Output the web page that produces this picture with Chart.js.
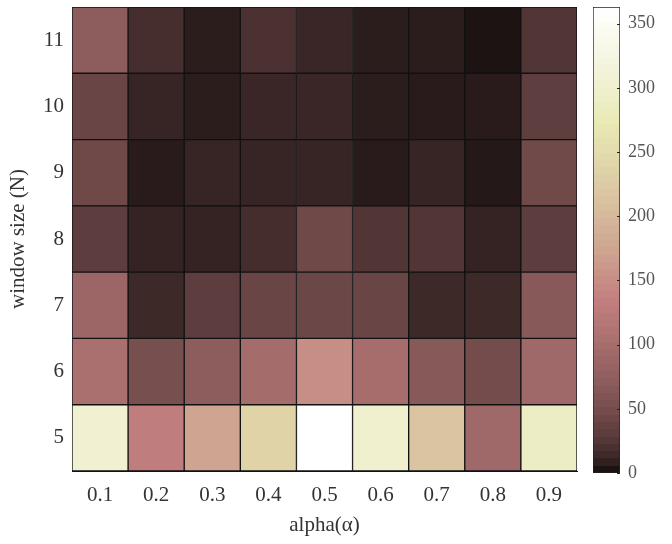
<!DOCTYPE html>
<html>
<head>
<meta charset="utf-8">
<script src="https://cdn.jsdelivr.net/npm/chart.js@4"></script>
<style>
  html, body { margin: 0; padding: 0; background: #fff; }
  #wrap { position: relative; width: 672px; height: 544px; }
  #main { position: absolute; left: 0; top: 0; width: 672px; height: 544px; }
  #bar { position: absolute; left: 580px; top: 0; width: 92px; height: 544px; }
</style>
</head>
<body>
<div id="wrap">
  <div id="main"><canvas id="heatChart"></canvas></div>
  <div id="bar"><canvas id="colorbarChart"></canvas></div>
</div>
<script>
// categorias
var alphaLabels = ['0.1', '0.2', '0.3', '0.4', '0.5', '0.6', '0.7', '0.8', '0.9'];
var windowSizes = ['5', '6', '7', '8', '9', '10', '11'];

// valores por fila (ventana)
var w5  = [305, 131, 176, 237, 363, 300, 216, 92, 290];
var w6  = [104, 52, 71, 98, 150, 100, 66, 48, 92];
var w7  = [87, 14, 31, 40, 42, 40, 14, 14, 66];
var w8  = [31, 10, 10, 17, 44, 24, 24, 10, 31];
var w9  = [44, 6, 11, 11, 11, 6, 11, 5, 45];
var w10 = [40, 11, 7, 12, 12, 7, 6, 6, 32];
var w11 = [71, 18, 7, 20, 12, 7, 7, 3, 24];

var colorbarTicks = [0, 50, 100, 150, 200, 250, 300, 350];
var colorMax = 363;

var filas = [w5, w6, w7, w8, w9, w10, w11];
var fuente = "'Liberation Serif', 'DejaVu Serif', serif";

// colormap "pink" de matlab (continuo), x entre 0 y 1
function pinkColor(x) {
  var clamp = function(v) { return Math.max(0, Math.min(1, v)); };
  var r = clamp(x / 0.375);
  var g = clamp((x - 0.375) / 0.375);
  var b = clamp((x - 0.75) / 0.25);
  var f = function(h) { return Math.round(Math.sqrt((2 * x + h) / 3) * 255); };
  return 'rgb(' + f(r) + ',' + f(g) + ',' + f(b) + ')';
}
function valueToColor(v) {
  return pinkColor(Math.min(1, v / colorMax));
}

// quita el hueco que chart.js deja para media etiqueta arriba y abajo
function sinPadding(scale) {
  scale.paddingTop = 0;
  scale.paddingBottom = 0;
}

var datasets = filas.map(function(fila, i) {
  return {
    label: windowSizes[i],
    data: fila.map(function() { return 1; }),
    backgroundColor: fila.map(valueToColor),
    borderColor: '#111',
    borderWidth: 1,
    borderSkipped: false,
    barPercentage: 1,
    categoryPercentage: 1
  };
});

var heatChart = new Chart(document.getElementById('heatChart').getContext('2d'), {
  type: 'bar',
  data: { labels: alphaLabels, datasets: datasets },
  options: {
    responsive: true,
    maintainAspectRatio: false,
    animation: false,
    layout: { padding: { left: 0, right: 95, top: 7, bottom: 0 } },
    plugins: { legend: { display: false }, tooltip: { enabled: false } },
    scales: {
      x: {
        stacked: true,
        grid: { display: false, drawTicks: false },
        border: { display: true, color: '#111', width: 1 },
        ticks: { color: '#333', padding: 12, font: { family: fuente, size: 21 } },
        title: { display: true, text: 'alpha(α)', color: '#333', padding: { top: 0, bottom: 6 }, font: { family: fuente, size: 21 } },
        afterFit: function(scale) { scale.height = 73; }
      },
      y: {
        stacked: true,
        min: 0,
        max: 7,
        grid: { display: false, drawTicks: false },
        border: { display: true, color: '#111', width: 1 },
        afterBuildTicks: function(scale) {
          scale.ticks = windowSizes.map(function(w, i) { return { value: i + 0.5 }; });
        },
        ticks: {
          color: '#333',
          padding: 8,
          font: { family: fuente, size: 21 },
          callback: function(value, index) { return windowSizes[index]; }
        },
        title: { display: true, text: 'window size (N)', color: '#333', padding: { top: 6, bottom: 0 }, font: { family: fuente, size: 21 } },
        afterFit: function(scale) { scale.width = 72; sinPadding(scale); }
      }
    }
  }
});

// barra de colores
var marcasColorbar = {
  id: 'marcasColorbar',
  afterDatasetsDraw: function(chart) {
    var ctx = chart.ctx;
    var sy = chart.scales.y;
    var right = chart.chartArea.right;
    ctx.save();
    ctx.strokeStyle = '#222';
    ctx.lineWidth = 1;
    colorbarTicks.forEach(function(t) {
      var py = Math.round(sy.getPixelForValue(t)) + 0.5;
      ctx.beginPath();
      ctx.moveTo(right - 3, py);
      ctx.lineTo(right, py);
      ctx.stroke();
    });
    ctx.restore();
  }
};

// 64 bandas como en matlab
function gradienteColorbar(context) {
  var chart = context.chart;
  var area = chart.chartArea;
  if (!area) return '#000';
  var grad = chart.ctx.createLinearGradient(0, area.bottom, 0, area.top);
  for (var k = 0; k < 64; k++) {
    var c = pinkColor((k + 0.5) / 64);
    grad.addColorStop(k / 64, c);
    grad.addColorStop((k + 1) / 64, c);
  }
  return grad;
}

var colorbarChart = new Chart(document.getElementById('colorbarChart').getContext('2d'), {
  type: 'bar',
  data: {
    labels: [''],
    datasets: [{
      data: [[0, colorMax]],
      backgroundColor: gradienteColorbar,
      borderColor: '#222',
      borderWidth: 1,
      borderSkipped: false,
      barPercentage: 1,
      categoryPercentage: 1
    }]
  },
  options: {
    responsive: true,
    maintainAspectRatio: false,
    animation: false,
    layout: { padding: { left: 13, right: 0, top: 7, bottom: 71 } },
    plugins: { legend: { display: false }, tooltip: { enabled: false } },
    scales: {
      x: { display: false },
      y: {
        position: 'right',
        min: 0,
        max: colorMax,
        grid: { display: false, drawTicks: false },
        border: { display: false },
        afterBuildTicks: function(scale) {
          scale.ticks = colorbarTicks.map(function(t) { return { value: t }; });
        },
        ticks: { color: '#555', padding: 8, font: { family: fuente, size: 18 } },
        afterFit: function(scale) { scale.width = 52; sinPadding(scale); }
      }
    }
  },
  plugins: [marcasColorbar]
});
</script>
</body>
</html>
